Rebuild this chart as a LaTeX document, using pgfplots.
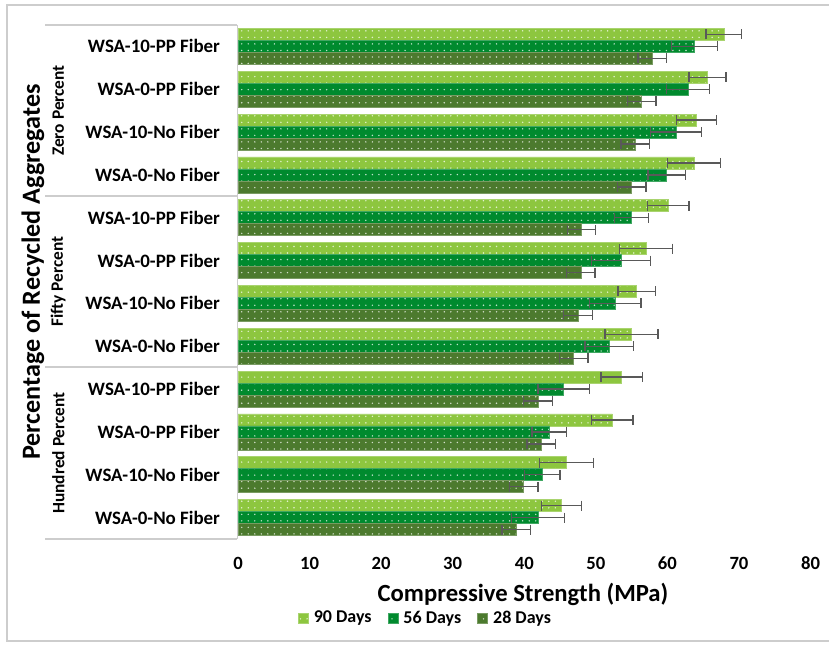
\documentclass[border=0pt]{standalone}
\usepackage{fontspec}
\setmainfont{Carlito}
\usepackage{pgfplots}
\usepackage{pgfplotstable}
\pgfplotsset{compat=1.18}
\usetikzlibrary{patterns.meta}
\definecolor{cA}{RGB}{141,198,63}
\definecolor{cB}{RGB}{0,138,46}
\definecolor{cC}{RGB}{76,122,46}
\definecolor{sepg}{RGB}{205,205,205}
\definecolor{errg}{RGB}{89,89,89}

\pgfplotstableread{
g v90 e90 v56 e56 v28 e28
1 67.9 2.5 63.8 3.2 57.9 2.0
2 65.6 2.6 62.9 3.0 56.4 2.0
3 64.1 2.8 61.2 3.6 55.5 2.0
4 63.7 3.7 59.9 2.6 55.0 2.0
5 60.1 2.9 55.0 2.4 48.0 2.0
6 57.0 3.7 53.5 4.1 47.9 2.0
7 55.7 2.6 52.7 3.6 47.5 2.0
8 55.0 3.7 51.9 3.4 46.9 2.0
9 53.6 2.9 45.5 3.6 41.9 2.0
10 52.3 2.9 43.5 2.4 42.4 2.0
11 45.9 3.8 42.5 2.5 39.9 2.0
12 45.2 2.8 41.9 3.7 38.9 2.0
}\data

\begin{document}
\begin{tikzpicture}
\path[use as bounding box] (0,0) rectangle (621.75pt,-483.75pt);
% outer frame
\draw[sepg, line width=1pt] (630pt,-3.75pt) -- (5.25pt,-3.75pt) -- (5.25pt,-480.75pt) -- (630pt,-480.75pt);
% category separators
\foreach \yy in {-18.75,-147,-275.25,-404.25}
  \draw[sepg, line width=1.1pt] (33.75pt,\yy pt) -- (178.1pt,\yy pt);
\draw[sepg, line width=1.1pt] (178.1pt,-18.75pt) -- (178.1pt,-404.25pt);

\begin{axis}[
  at={(178.5pt,-404.25pt)}, anchor=south west,
  scale only axis, width=429.4pt, height=385.5pt,
  xbar, bar width=9pt,
  xmin=0, xmax=80, ymin=0.5, ymax=12.5, y dir=reverse,
  xtick={0,10,...,80}, ytick={1,...,12},
  yticklabels={WSA-10-PP Fiber, WSA-0-PP Fiber, WSA-10-No Fiber, WSA-0-No Fiber,
               WSA-10-PP Fiber, WSA-0-PP Fiber, WSA-10-No Fiber, WSA-0-No Fiber,
               WSA-10-PP Fiber, WSA-0-PP Fiber, WSA-10-No Fiber, WSA-0-No Fiber},
  axis line style={draw=none}, major tick length=0pt,
  /pgf/number format/assume math mode=true,
  xticklabel style={font=\fontsize{14pt}{16pt}\selectfont\bfseries, anchor=center, yshift=-18.4pt},
  yticklabel style={font=\fontsize{14.2pt}{16pt}\selectfont\bfseries, anchor=east, xshift=-10pt},
  clip=false,
  legend style={at={(0.328,-0.1537)}, anchor=center, legend columns=3, draw=none, fill=none,
    font=\fontsize{13.5pt}{15pt}\selectfont\bfseries,
    /tikz/every odd column/.append style={column sep=2pt},
    /tikz/every even column/.append style={column sep=10pt}},
  legend image code/.code={\draw[#1, draw=none] (0pt,-3.75pt) rectangle (7.5pt,3.75pt);},
  error bars/error bar style={line width=1pt, draw=errg},
  error bars/error mark=|,
  error bars/error mark options={line width=1pt, draw=errg, mark size=3.75pt},
]
\addplot[fill=cA, draw=cA!75!white, line width=0.4pt, bar shift=9pt,
  postaction={pattern={Dots[radius=0.6pt, distance=4.9pt]}, pattern color=cA!25!white},
  error bars/.cd, x dir=both, x explicit]
  table[x=v90, y=g, x error=e90] {\data};
\addlegendentry{90 Days}
\addplot[fill=cB, draw=cB!75!white, line width=0.4pt, bar shift=0pt,
  postaction={pattern={Dots[radius=0.6pt, distance=4.9pt]}, pattern color=cB!25!white},
  error bars/.cd, x dir=both, x explicit]
  table[x=v56, y=g, x error=e56] {\data};
\addlegendentry{56 Days}
\addplot[fill=cC, draw=cC!75!white, line width=0.4pt, bar shift=-9pt,
  postaction={pattern={Dots[radius=0.6pt, distance=4.9pt]}, pattern color=cC!25!white},
  error bars/.cd, x dir=both, x explicit]
  table[x=v28, y=g, x error=e28] {\data};
\addlegendentry{28 Days}
\end{axis}

\node[rotate=90, font=\fontsize{19.6pt}{22pt}\selectfont\bfseries] at (24.75pt,-204pt) {Percentage of Recycled Aggregates};
\node[rotate=90, font=\fontsize{13pt}{15pt}\selectfont\bfseries] at (43.7pt,-82.9pt) {Zero Percent};
\node[rotate=90, font=\fontsize{13pt}{15pt}\selectfont\bfseries] at (43.7pt,-211.1pt) {Fifty Percent};
\node[rotate=90, font=\fontsize{13pt}{15pt}\selectfont\bfseries] at (43.7pt,-339.75pt) {Hundred Percent};
\node[font=\fontsize{18.5pt}{20pt}\selectfont\bfseries] at (392.25pt,-445.5pt) {Compressive Strength (MPa)};
\end{tikzpicture}
\end{document}
